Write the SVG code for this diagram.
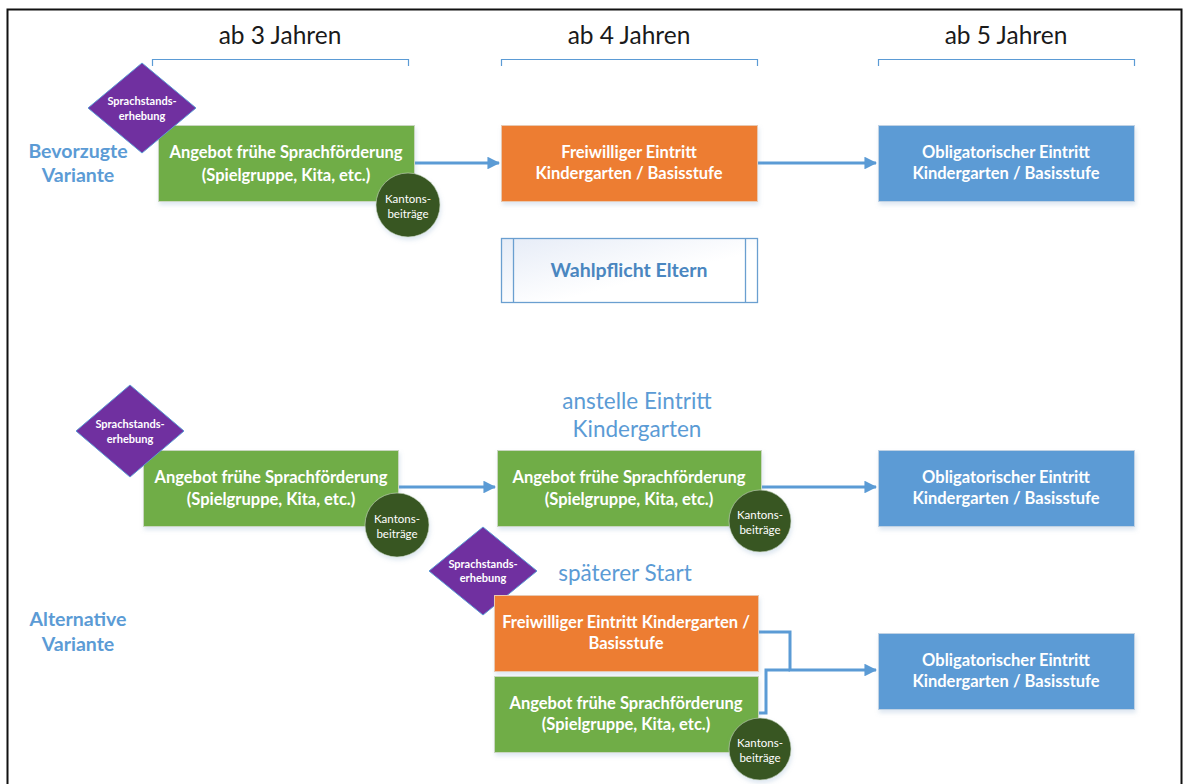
<svg xmlns="http://www.w3.org/2000/svg" width="1183" height="784" viewBox="0 0 1183 784">
  <defs>
    <style>
      .hdr{font-family:Lato,"Liberation Sans",sans-serif;font-size:24.5px;fill:#1a1a1a;text-anchor:middle}
      .var{font-family:Lato,"Liberation Sans",sans-serif;font-size:19.5px;font-weight:bold;fill:#5b9bd5;text-anchor:middle}
      .sub{font-family:Lato,"Liberation Sans",sans-serif;font-size:22.5px;fill:#5b9bd5;text-anchor:middle}
      .bt{font-family:Lato,"Liberation Sans",sans-serif;font-size:16.5px;font-weight:bold;fill:#ffffff;text-anchor:middle}
      .dt{font-family:Lato,"Liberation Sans",sans-serif;font-size:11px;font-weight:bold;fill:#ffffff;text-anchor:middle}
      .ct{font-family:Lato,"Liberation Sans",sans-serif;font-size:11.5px;fill:#ffffff;text-anchor:middle}
      .wt{font-family:Lato,"Liberation Sans",sans-serif;font-size:19.5px;font-weight:bold;fill:#4a86c0;text-anchor:middle}
      .green{fill:#70ad47;stroke:#c9d6c0;stroke-width:1;filter:url(#sh)}
      .orange{fill:#ed7d31;stroke:#e8c8b0;stroke-width:1;filter:url(#sh)}
      .blue{fill:#5b9bd5;stroke:#c0d2e4;stroke-width:1;filter:url(#sh)}
      .dia{fill:#7030a0;stroke:#5b9bd5;stroke-width:1}
      .circ{fill:#375623;stroke:#c9d6c0;stroke-width:0.6;filter:url(#sh)}
      .brk{fill:none;stroke:#5b9bd5;stroke-width:1.2}
      .con{fill:none;stroke:#5b9bd5;stroke-width:3}
    </style>
    <filter id="sh" x="-10%" y="-10%" width="130%" height="140%">
      <feDropShadow dx="1" dy="3" stdDeviation="2" flood-color="#7aa0c8" flood-opacity="0.25"/>
    </filter>
    <linearGradient id="wg" x1="0" y1="0" x2="1" y2="1">
      <stop offset="0" stop-color="#e6ecf7"/>
      <stop offset="0.6" stop-color="#ffffff"/>
    </linearGradient>
    <marker id="ah" viewBox="0 0 12 12" refX="11" refY="6" markerWidth="4.2" markerHeight="4.2" orient="auto" markerUnits="strokeWidth">
      <path d="M0,0 L12,6 L0,12 z" fill="#5b9bd5"/>
    </marker>
  </defs>

  <rect x="0" y="0" width="1183" height="784" fill="#ffffff"/>
  <rect id="frame" x="7.5" y="9.5" width="1174" height="790" fill="none" stroke="#111111" stroke-width="2"/>

  <g id="headers">
    <text class="hdr" x="280" y="44">ab 3 Jahren</text>
    <text class="hdr" x="629" y="44">ab 4 Jahren</text>
    <text class="hdr" x="1006" y="44">ab 5 Jahren</text>
    <path class="brk" d="M152.5,66 V59.5 H408.5 V66"/>
    <path class="brk" d="M501.5,66 V59.5 H757.5 V66"/>
    <path class="brk" d="M878.5,66 V59.5 H1134.5 V66"/>
  </g>

  <g id="labels">
    <text class="var" x="78" y="158">Bevorzugte</text>
    <text class="var" x="78" y="182">Variante</text>
    <text class="var" x="78" y="626">Alternative</text>
    <text class="var" x="78" y="651">Variante</text>
    <text class="sub" x="637" y="409">anstelle Eintritt</text>
    <text class="sub" x="637" y="437">Kindergarten</text>
    <text class="sub" x="625" y="581">späterer Start</text>
  </g>

  <g id="connectors">
    <path class="con" d="M414,163 H499" marker-end="url(#ah)"/>
    <path class="con" d="M757,163 H876" marker-end="url(#ah)"/>
    <path class="con" d="M398,487 H495" marker-end="url(#ah)"/>
    <path class="con" d="M762,487 H876" marker-end="url(#ah)"/>
    <path class="con" d="M759,632 H790 V670 H876" marker-end="url(#ah)"/>
    <path class="con" d="M759,713 H766 V670 H790"/>
  </g>

  <g id="n-green1">
    <rect class="green" x="158.5" y="125.5" width="256" height="76"/>
    <text class="bt" x="286" y="158">Angebot frühe Sprachförderung</text>
    <text class="bt" x="286" y="181">(Spielgruppe, Kita, etc.)</text>
  </g>
  <g id="n-diamond1">
    <polygon class="dia" points="142,63 196,108 142,153 88,108"/>
    <text class="dt" x="142" y="105">Sprachstands-</text>
    <text class="dt" x="142" y="120">erhebung</text>
  </g>
  <g id="n-circle1">
    <circle class="circ" cx="408" cy="205" r="32"/>
    <text class="ct" x="408" y="203">Kantons-</text>
    <text class="ct" x="408" y="218">beiträge</text>
  </g>
  <g id="n-orange1">
    <rect class="orange" x="501.5" y="125.5" width="256" height="76"/>
    <text class="bt" x="629" y="158">Freiwilliger Eintritt</text>
    <text class="bt" x="629" y="179">Kindergarten / Basisstufe</text>
  </g>
  <g id="n-blue1">
    <rect class="blue" x="878.5" y="125.5" width="256" height="76"/>
    <text class="bt" x="1006" y="158">Obligatorischer Eintritt</text>
    <text class="bt" x="1006" y="179">Kindergarten / Basisstufe</text>
  </g>
  <g id="n-wahlpflicht">
    <rect x="501.5" y="238.5" width="256" height="64" fill="url(#wg)" stroke="#6a9fd0" stroke-width="1.3"/>
    <line x1="513.5" y1="238.5" x2="513.5" y2="302.5" stroke="#6a9fd0" stroke-width="1.3"/>
    <line x1="745.5" y1="238.5" x2="745.5" y2="302.5" stroke="#6a9fd0" stroke-width="1.3"/>
    <text class="wt" x="629" y="277">Wahlpflicht Eltern</text>
  </g>

  <g id="n-green2">
    <rect class="green" x="143.5" y="450.5" width="255" height="76"/>
    <text class="bt" x="271" y="483">Angebot frühe Sprachförderung</text>
    <text class="bt" x="271" y="505">(Spielgruppe, Kita, etc.)</text>
  </g>
  <g id="n-diamond2">
    <polygon class="dia" points="130,385 184,431 130,477 76,431"/>
    <text class="dt" x="130" y="428">Sprachstands-</text>
    <text class="dt" x="130" y="443">erhebung</text>
  </g>
  <g id="n-circle2">
    <circle class="circ" cx="397" cy="525" r="32"/>
    <text class="ct" x="397" y="523">Kantons-</text>
    <text class="ct" x="397" y="538">beiträge</text>
  </g>
  <g id="n-green3">
    <rect class="green" x="497.5" y="450.5" width="264" height="76"/>
    <text class="bt" x="629" y="483">Angebot frühe Sprachförderung</text>
    <text class="bt" x="629" y="505">(Spielgruppe, Kita, etc.)</text>
  </g>
  <g id="n-circle3">
    <circle class="circ" cx="760" cy="521" r="31"/>
    <text class="ct" x="760" y="519">Kantons-</text>
    <text class="ct" x="760" y="534">beiträge</text>
  </g>
  <g id="n-blue2">
    <rect class="blue" x="878.5" y="450.5" width="256" height="76"/>
    <text class="bt" x="1006" y="483">Obligatorischer Eintritt</text>
    <text class="bt" x="1006" y="504">Kindergarten / Basisstufe</text>
  </g>

  <g id="n-diamond3">
    <polygon class="dia" points="483,527 537,571 483,615 429,571"/>
    <text class="dt" x="483" y="568">Sprachstands-</text>
    <text class="dt" x="483" y="582">erhebung</text>
  </g>
  <g id="n-orange2">
    <rect class="orange" x="494.5" y="595.5" width="264" height="76"/>
    <text class="bt" x="626" y="628">Freiwilliger Eintritt Kindergarten /</text>
    <text class="bt" x="626" y="649">Basisstufe</text>
  </g>
  <g id="n-green4">
    <rect class="green" x="494.5" y="676.5" width="264" height="76"/>
    <text class="bt" x="626" y="709">Angebot frühe Sprachförderung</text>
    <text class="bt" x="626" y="730">(Spielgruppe, Kita, etc.)</text>
  </g>
  <g id="n-circle4">
    <circle class="circ" cx="760" cy="749" r="31"/>
    <text class="ct" x="760" y="747">Kantons-</text>
    <text class="ct" x="760" y="762">beiträge</text>
  </g>
  <g id="n-blue3">
    <rect class="blue" x="878.5" y="633.5" width="256" height="76"/>
    <text class="bt" x="1006" y="666">Obligatorischer Eintritt</text>
    <text class="bt" x="1006" y="687">Kindergarten / Basisstufe</text>
  </g>
</svg>
